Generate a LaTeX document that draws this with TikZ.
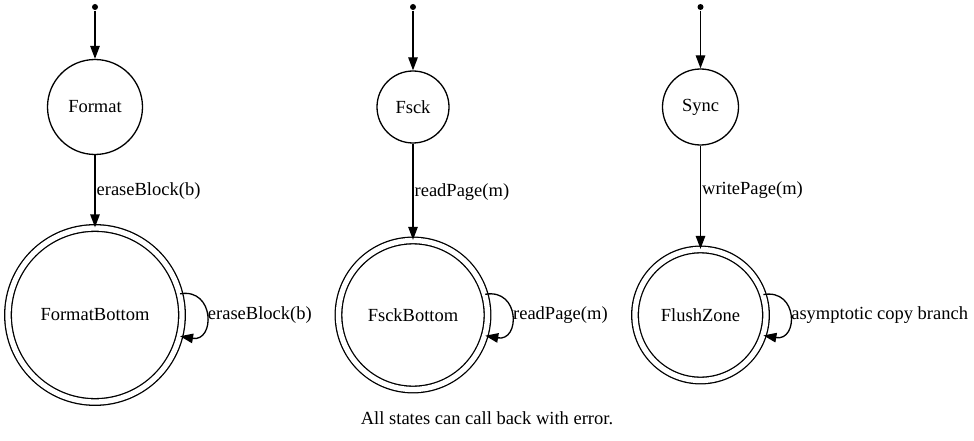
\documentclass[tikz,border=0pt]{standalone}
\usepackage{fontspec}
\setmainfont{Liberation Serif}
\usetikzlibrary{arrows.meta}

\begin{document}
\begin{tikzpicture}[x=1pt,y=-1pt,>={Triangle[length=13pt,width=9.5pt]},line width=1.3pt,
 font=\fontsize{18.5pt}{22pt}\selectfont,
 st/.style={draw,circle,inner sep=1pt},
 fin/.style={st,double,double distance=5.3pt},
 init/.style={fill,circle,inner sep=0pt,minimum size=6pt},
 lbl/.style={right,inner sep=1pt}]
 \useasboundingbox (0,0) rectangle (974,441);
 % format machine
 \node[init] (i1) at (95,7) {};
 \node[st,minimum size=95pt] (format) at (95,107) {Format};
 \node[fin,minimum size=174pt] (formatb) at (95,315) {FormatBottom};
 \draw[->] (i1)--(format);
 \draw[->] (format)--node[lbl] {eraseBlock(b)} (formatb);
 \draw[->] (formatb.14) .. controls +(35,-6) and +(35,6) .. node[lbl] {eraseBlock(b)} (formatb.-14);
 % fsck machine
 \node[init] (i2) at (413,7) {};
 \node[st,minimum size=72pt] (fsck) at (413,107) {Fsck};
 \node[fin,minimum size=149pt] (fsckb) at (413,315) {FsckBottom};
 \draw[->] (i2)--(fsck);
 \draw[->] (fsck)--node[lbl] {readPage(m)} (fsckb);
 \draw[->] (fsckb.16) .. controls +(35,-6) and +(35,6) .. node[lbl] {readPage(m)} (fsckb.-16);
 % sync machine
 \node[init] (i3) at (700.5,7) {};
 \node[st,minimum size=76pt] (sync) at (700.5,107) {Sync};
 \node[fin,minimum size=131pt] (flush) at (700.5,315) {FlushZone};
 \draw[->] (i3)--(sync);
 \draw[->] (sync)--node[lbl,pos=.43] {writePage(m)} (flush);
 \draw[->] (flush.18) .. controls +(35,-6) and +(35,6) .. node[lbl] {asymptotic copy branch} (flush.-18);
 \node (note) at (487,418) {All states can call back with error.};
\end{tikzpicture}
\end{document}
